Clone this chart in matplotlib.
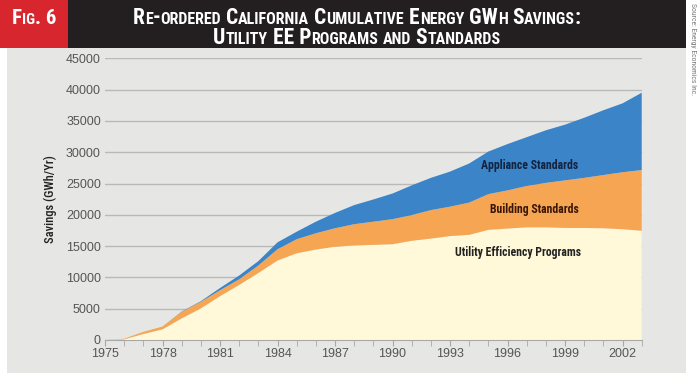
import matplotlib
matplotlib.use('Agg')
import matplotlib.pyplot as plt
from matplotlib.patches import Rectangle

years = list(range(1975, 2004))
utility = [0, 100, 960, 1700, 3450, 5050, 7000, 8800, 10700, 12700,
           13850, 14450, 14900, 15100, 15200, 15300, 15850, 16200, 16600, 16800,
           17600, 17800, 18000, 18000, 17900, 17900, 17850, 17700, 17450]
building = [0, 100, 340, 450, 1050, 1050, 950, 900, 1200, 1800,
            2250, 2600, 2950, 3400, 3700, 4000, 4100, 4550, 4700, 5150,
            5700, 6100, 6600, 7100, 7600, 8000, 8500, 9100, 9700]
appliance = [0, 0, 0, 0, 50, 100, 350, 600, 700, 1100,
             1200, 1850, 2450, 3050, 3550, 4100, 4750, 5150, 5600, 6250,
             6800, 7400, 7800, 8400, 8900, 9600, 10350, 11000, 12350]
series_labels = ['Utility Efficiency Programs', 'Building Standards', 'Appliance Standards']
xticks = list(range(1975, 2003, 3))
yticks = list(range(0, 45001, 5000))

BG = '#e6e7e5'
COLORS = ['#fff8d9', '#f6a553', '#3b84c7']
COND = ['Roboto Condensed', 'DejaVu Sans']

W, H = 700, 373
fig = plt.figure(figsize=(W / 100, H / 100), dpi=100)
fig.patch.set_facecolor('white')

# panel background and header bars
fig.patches.append(Rectangle((7 / W, 0), 679 / W, 1 - 48 / H, transform=fig.transFigure,
                             facecolor=BG, edgecolor='none', zorder=-5))
fig.patches.append(Rectangle((0, 1 - 48 / H), 68 / W, 48 / H, transform=fig.transFigure,
                             facecolor='#d8262e', edgecolor='none', zorder=-5))
fig.patches.append(Rectangle((68 / W, 1 - 48 / H), 618 / W, 48 / H, transform=fig.transFigure,
                             facecolor='#231f20', edgecolor='none', zorder=-5))

ax = fig.add_axes([105 / W, 33 / H, 536.7 / W, 281.7 / H])
ax.set_zorder(2)
ax.set_facecolor(BG)
ax.stackplot(years, utility, building, appliance, colors=COLORS, linewidth=0, zorder=2)

ax.set_xlim(1975, 2003)
ax.set_ylim(0, 45000)
ax.set_yticks(yticks)
ax.set_xticks(xticks)
ax.set_xticks(years, minor=True)
ax.grid(axis='y', color='#b9b9b9', linewidth=1.0, zorder=1)
ax.set_axisbelow(True)
for s in ['top', 'right', 'left']:
    ax.spines[s].set_visible(False)
ax.spines['bottom'].set_color('#a8a8a8')
ax.tick_params(axis='y', length=0, pad=3, labelsize=9, labelcolor='#555555')
ax.tick_params(axis='x', which='both', length=4, color='#a8a8a8', pad=2,
               labelsize=9, labelcolor='#555555')
for lab in ax.get_xticklabels() + ax.get_yticklabels():
    lab.set_family('Liberation Sans')

ax.set_ylabel('Savings (GWh/Yr)', family=COND, weight='medium', fontsize=9,
              color='#222222', labelpad=6)

ax.text(1997.17, 27840, series_labels[2], family=COND, weight='bold', fontsize=8.5,
        color='#14233f', ha='center', va='center', zorder=3)
ax.text(1997.38, 20920, series_labels[1], family=COND, weight='bold', fontsize=8.5,
        color='#3a1705', ha='center', va='center', zorder=3)
ax.text(1996.54, 14050, series_labels[0], family=COND, weight='bold', fontsize=8.5,
        color='#222222', ha='center', va='center', zorder=3)

renderer = fig.canvas.get_renderer()


def text_width(s, size):
    a = fig.text(0, 0, 'I' + s + 'I', fontsize=size, family=COND, weight='heavy')
    b = fig.text(0, 0, 'II', fontsize=size, family=COND, weight='heavy')
    w = a.get_window_extent(renderer).width - b.get_window_extent(renderer).width
    a.remove()
    b.remove()
    return w


def smallcaps(xc, y, text, big, small):
    runs = []
    for ch in text:
        low = ch.islower()
        if runs and runs[-1][1] == low:
            runs[-1][0] += ch
        else:
            runs.append([ch, low])
    widths = [text_width(s.upper(), small if low else big) for s, low in runs]
    x = xc - sum(widths) / 2
    for (s, low), w in zip(runs, widths):
        fig.text(x / W, 1 - y / H, s.upper(), fontsize=small if low else big,
                 family=COND, weight='heavy', color='white', va='baseline', ha='left')
        x += w


smallcaps(34, 24, 'Fig. 6', 15, 11)
smallcaps(357, 24, 'Re-ordered California Cumulative Energy GWh Savings:', 15.5, 11.5)
smallcaps(357, 44, 'Utility EE Programs and Standards', 15.5, 11.5)

fig.text(693 / W, 1 - 3 / H, 'Source: Energy Economics Inc.', rotation=-90, fontsize=5.5,
         family=COND, color='#777777', ha='center', va='top')

fig.savefig('out.png', dpi=100)
